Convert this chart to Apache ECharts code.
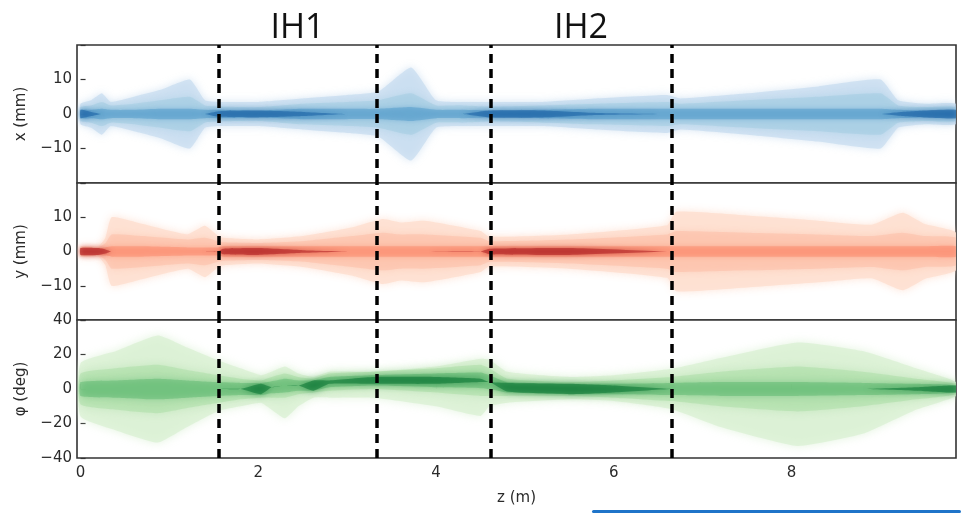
<!DOCTYPE html>
<html>
<head>
<meta charset="utf-8">
<script src="https://cdn.jsdelivr.net/npm/echarts@6/dist/echarts.min.js"></script>
<style>
  html, body { margin: 0; padding: 0; background: #fff; }
  #chart { width: 961px; height: 513px; }
</style>
</head>
<body>
<div id="chart"></div>
<script>
// cavity boundaries (m)
const gapLines = [1.55, 3.33, 4.61, 6.65];
const cavities = [['IH1', 1.55, 3.33], ['IH2', 4.61, 6.65]];

// x (mm) envelope, half widths
const xZ     = [0, 0.12, 0.24, 0.34, 0.6, 0.9, 1.23, 1.4, 1.55, 2.0, 2.5, 3.0, 3.35, 3.72, 4.0, 4.3, 4.6, 5.2, 5.8, 6.6, 6.75, 7.5, 8.3, 9.0, 9.2, 9.5, 9.85];
const xOuter = [3, 4, 6, 3.5, 5, 7, 10, 4, 3.5, 3.5, 4.5, 5.5, 6.5, 13.5, 4, 3.5, 3.5, 3.5, 4.5, 5.5, 4.5, 6, 8, 10, 4, 3, 3];
const xMid   = [2, 2.5, 3.5, 2.5, 3, 4, 5, 2.5, 2.2, 2, 3, 3.5, 4, 6, 2.5, 2.5, 2.2, 2.5, 3, 3.5, 3, 4, 5, 6, 2.5, 2, 2];
const xCore  = [1.2, 1.2, 1.5, 1.2, 1.2, 1.5, 1.5, 1.2, 1.2, 1.0, 1.5, 1.5, 1.5, 2, 1.2, 1.2, 1.0, 1.2, 1.5, 1.5, 1.5, 1.5, 1.5, 1.5, 1.2, 1.0, 1.0];
const xHot   = [1.2, 0.6, 0, 0, 0, 0, 0, 0, 0.8, 1.0, 0.6, 0, 0, 0, 0, 0, 1.0, 1.0, 0.3, 0, 0, 0, 0, 0, 0.5, 1.0, 1.2];

// y (mm) envelope, half widths
const yZ     = [0, 0.2, 0.28, 0.35, 0.7, 1.2, 1.4, 1.55, 1.6, 2.0, 2.5, 3.05, 3.4, 3.6, 3.87, 4.5, 4.6, 5.5, 6.6, 6.7, 7.5, 8.3, 8.9, 9.25, 9.5, 9.85];
const yOuter = [1.5, 1.5, 4, 10, 8, 5, 7.5, 4.5, 4, 3.5, 4.5, 7, 9.5, 8.5, 9, 6, 4.3, 5, 7.7, 11.6, 10.5, 9, 7.8, 11.3, 8, 5.5];
const yMid   = [1.2, 1.2, 2.5, 5, 4.5, 3.5, 4, 3, 2.7, 2.5, 3, 4.5, 5.5, 5, 5, 4, 3, 3.5, 5, 6, 5.5, 5, 4.5, 5.5, 4.5, 4];
const yCore  = [1, 1, 1.2, 1.5, 1.5, 1.2, 1.2, 1.2, 1.5, 1.5, 1.5, 1.5, 1.5, 1.5, 1.5, 1.5, 1.5, 1.5, 1.5, 1.5, 1.5, 1.5, 1.5, 1.5, 1.5, 1.5];
const yHot   = [1, 1, 0.6, 0, 0, 0, 0, 0, 0.8, 1, 0.4, 0, 0, 0, 0, 0, 0.8, 1, 0, 0, 0, 0, 0, 0, 0, 0];

// phase (deg) envelope
const pZ       = [0, 0.4, 0.87, 1.2, 1.55, 1.8, 2.03, 2.15, 2.3, 2.45, 2.62, 2.8, 3.3, 4.0, 4.5, 4.6, 4.8, 5.5, 6.0, 6.65, 7.2, 8.07, 8.8, 9.4, 9.85];
const pOuterHi = [15, 22, 31, 24, 16.5, 12, 8, 10, 13, 9, 7, 10, 10, 13, 17.5, 17, 10, 7, 8, 11.7, 18, 27, 22, 12, 4];
const pOuterLo = [-16, -24, -31, -22, -12.7, -10, -8, -12, -17, -10, -5, -5, -5, -10, -15.6, -10, -8, -6, -7, -11.7, -22, -33, -26, -12, -4];
const pCenter  = [0, 0, 0, 0, 0, 0, 0, 1, 2, 2, 2, 4, 5, 5, 5, 4, 1, 0, 0, 0, 0, 0, 0, 0, 0];
const pMid     = [9, 12, 14, 11, 8, 6, 5, 6, 7, 5, 4, 5, 5, 7, 9, 8, 5, 4, 5, 7, 10, 13, 10, 6, 3];
const pCore    = [4, 5, 6, 5, 4, 3.5, 3.5, 3.5, 4, 3, 3, 3, 3, 4, 4.5, 4, 3, 3, 3, 3.5, 4, 4, 3.5, 3, 2];
const pHot     = [0, 0, 0, 0, 0, 0, 3, 0, 0, 0, 3, 1, 2, 2, 1, 0, 2.5, 3, 2, 0, 0, 0, 0, 1, 2];

const FONT = 'DejaVu Sans';

// one filled band (lo..hi) drawn as a polygon through the axis scales
function band(gi, z, lo, hi, color, opacity, blur) {
    const rows = z.map((v, i) => [v, lo[i], hi[i]]);
    return {
        type: 'custom',
        xAxisIndex: gi,
        yAxisIndex: gi,
        silent: true,
        clip: true,
        encode: { x: 0, y: [1, 2] },
        data: rows,
        renderItem: function (params, api) {
            if (params.dataIndex !== 0) return null;
            const top = rows.map(r => api.coord([r[0], r[2]]));
            const bot = rows.slice().reverse().map(r => api.coord([r[0], r[1]]));
            return {
                type: 'polygon',
                shape: { points: top.concat(bot), smooth: 0.15 },
                style: { fill: color, opacity: opacity, shadowBlur: blur || 0, shadowColor: color }
            };
        }
    };
}
function sym(gi, z, w, color, opacity, blur) {
    return band(gi, z, w.map(v => -v), w, color, opacity, blur);
}
function around(gi, z, c, w, color, opacity, blur) {
    return band(gi, z, c.map((v, i) => v - w[i]), c.map((v, i) => v + w[i]), color, opacity, blur);
}

function minus(v) { return v < 0 ? '\u2212' + Math.abs(v) : String(v); }

const tops = [45, 183, 320];
const heights = [138, 137, 138];
const grids = tops.map((t, i) => ({
    left: 77, right: 5, top: t, height: heights[i],
    show: true, borderColor: '#333', borderWidth: 1.6, backgroundColor: '#fff'
}));

const xAxes = [0, 1, 2].map(i => ({
    type: 'value', gridIndex: i, min: -0.04, max: 9.85, splitNumber: 5,
    axisLine: { show: false },
    splitLine: { show: false },
    axisTick: { show: i === 2, inside: true, length: 5, lineStyle: { color: '#333', width: 1.2 } },
    axisLabel: {
        show: i === 2, color: '#2b2b2b', fontSize: 15, fontFamily: FONT, margin: 8,
        showMinLabel: false, showMaxLabel: false,
        formatter: v => (Math.abs(v - Math.round(v)) < 1e-6 && Math.round(v) % 2 === 0) ? String(Math.round(v)) : ''
    },
    name: i === 2 ? 'z (m)' : '', nameLocation: 'middle', nameGap: 33,
    nameTextStyle: { color: '#2b2b2b', fontSize: 15, fontFamily: FONT }
}));

const yNames = ['x (mm)', 'y (mm)', 'φ (deg)'];
const yAxes = [0, 1, 2].map(i => ({
    type: 'value', gridIndex: i,
    min: i === 2 ? -40 : -20, max: i === 2 ? 40 : 20, interval: i === 2 ? 20 : 10,
    axisLine: { show: false },
    splitLine: { show: false },
    axisTick: { show: true, inside: true, length: 5, lineStyle: { color: '#333', width: 1.2 } },
    axisLabel: {
        color: '#2b2b2b', fontSize: 15, fontFamily: FONT, margin: 5,
        formatter: v => (i < 2 && Math.abs(v) === 20) ? '' : minus(v)
    },
    name: yNames[i], nameLocation: 'middle', nameGap: 48,
    nameTextStyle: { color: '#2b2b2b', fontSize: 15, fontFamily: FONT }
}));

const series = [
    sym(0, xZ, xOuter, '#c6dbef', 0.7, 8),
    sym(0, xZ, xMid, '#9ecae1', 0.45, 6),
    sym(0, xZ, xCore, '#4292c6', 0.4, 5),
    sym(0, xZ, xHot, '#08519c', 0.45, 6),

    sym(1, yZ, yOuter, '#fee0d2', 0.9, 8),
    sym(1, yZ, yMid, '#fcbba1', 0.45, 6),
    sym(1, yZ, yCore, '#fb6a4a', 0.3, 5),
    sym(1, yZ, yHot, '#a50f15', 0.5, 5),

    band(2, pZ, pOuterLo, pOuterHi, '#d9f0d3', 0.75, 10),
    around(2, pZ, pCenter, pMid, '#a1d99b', 0.4, 8),
    around(2, pZ, pCenter, pCore, '#41ab5d', 0.35, 6),
    around(2, pZ, pCenter, pHot, '#006d2c', 0.5, 6)
];

// dashed cavity boundaries on every panel, cavity names above the top one
[0, 1, 2].forEach(i => {
    const s = {
        type: 'line', xAxisIndex: i, yAxisIndex: i, data: [], silent: true,
        markLine: {
            silent: true, symbol: 'none', animation: false,
            label: { show: false },
            lineStyle: { color: '#000', width: 3.5, type: [9, 6] },
            data: gapLines.map(z => ({ xAxis: z }))
        }
    };
    if (i === 0) {
        s.markArea = {
            silent: true,
            itemStyle: { color: 'rgba(0,0,0,0)' },
            label: { show: true, position: 'top', distance: 0, color: '#111', fontSize: 34, fontFamily: 'Open Sans' },
            data: cavities.map(c => [{ name: c[0], xAxis: c[1] }, { xAxis: c[2] }])
        };
    }
    series.push(s);
});

const chart = echarts.init(document.getElementById('chart'), null, { renderer: 'canvas' });
chart.setOption({
    animation: false,
    backgroundColor: '#fff',
    grid: grids,
    xAxis: xAxes,
    yAxis: yAxes,
    series: series,
    graphic: [{
        type: 'rect', left: 592, top: 510,
        shape: { width: 369, height: 3, r: 1.5 },
        style: { fill: '#1f74c9' }
    }]
});
</script>
</body>
</html>
